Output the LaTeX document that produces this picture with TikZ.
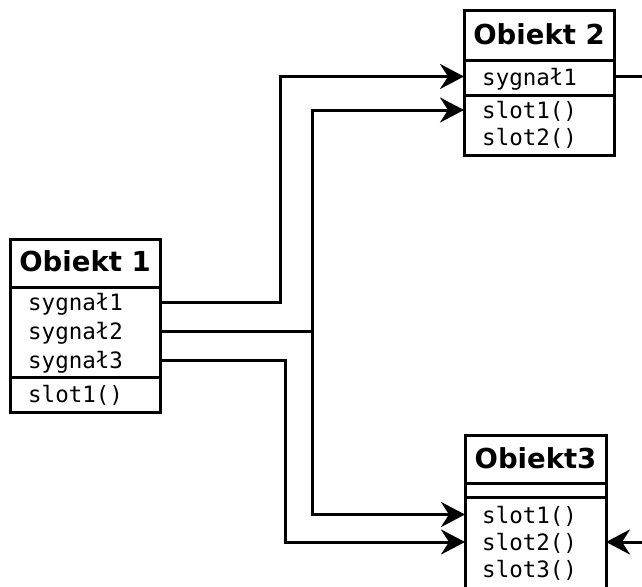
\documentclass[tikz,border=0pt]{standalone}
\usepackage{fontspec}
\setmainfont{DejaVu Sans}
\newfontfamily\monof{DejaVu Sans Mono}
\usetikzlibrary{arrows.meta}
\begin{document}
\begin{tikzpicture}[x=1pt,y=-1pt,
  box/.style={draw,line width=3pt,rectangle,inner sep=0,outer sep=0,anchor=north west},
  divider/.style={line width=3pt},
  ttl/.style={font=\bfseries\fontsize{27.5}{33}\selectfont,anchor=base,inner sep=0},
  item/.style={font=\monof\fontsize{22.5}{27}\selectfont,anchor=west,inner sep=0,text height=20pt,text depth=3pt},
  conn/.style={line width=3pt},
  arr/.style={conn,-{Stealth[length=24pt,width=25pt,inset=8pt]}}]
\useasboundingbox (0,0) rectangle (642,586);
\clip (0,0) rectangle (642,586);
% Obiekt 1
\node[box,minimum width=150pt,minimum height=173pt] (o1) at (10,239) {};
\coordinate (d1a) at (0,287);
\coordinate (d1b) at (0,377);
\draw[divider] (o1.west |- d1a) -- (o1.east |- d1a);
\draw[divider] (o1.west |- d1b) -- (o1.east |- d1b);
\node[ttl] (t1) at (85,271.5) {Obiekt 1};
\node[item] (o1s1) at (28,302) {sygnał1};
\node[item] (o1s2) at (28,331) {sygnał2};
\node[item] (o1s3) at (28,360) {sygnał3};
\node[item] (o1l1) at (28,394) {slot1()};
% Obiekt 2
\node[box,minimum width=150pt,minimum height=144pt] (o2) at (464,11) {};
\coordinate (d2a) at (0,60.5);
\coordinate (d2b) at (0,95);
\draw[divider] (o2.west |- d2a) -- (o2.east |- d2a);
\draw[divider] (o2.west |- d2b) -- (o2.east |- d2b);
\node[ttl] (t2) at (539,45) {Obiekt 2};
\node[item] (o2s1) at (482,76.5) {sygnał1};
\node[item] (o2l1) at (482,110) {slot1()};
\node[item] (o2l2) at (482,137) {slot2()};
% Obiekt3
\node[box,minimum width=141pt,minimum height=200pt] (o3) at (465,435) {};
\coordinate (d3a) at (0,483);
\coordinate (d3b) at (0,497);
\draw[divider] (o3.west |- d3a) -- (o3.east |- d3a);
\draw[divider] (o3.west |- d3b) -- (o3.east |- d3b);
\node[ttl] (t3) at (535.5,468) {Obiekt3};
\node[item] (o3l1) at (482,514.5) {slot1()};
\node[item] (o3l2) at (482,542) {slot2()};
\node[item] (o3l3) at (482,569) {slot3()};
% routing coordinates
\coordinate (v1) at (280,0);
\coordinate (v2) at (312,0);
\coordinate (v3) at (285,0);
\coordinate (out2) at (660,76.5);
\coordinate (in3) at (660,542);
% connectors
\draw[arr] (o1.east |- o1s1) -- (v1 |- o1s1) -- (v1 |- o2s1) -- (o2.west |- o2s1);
\draw[arr] (o1.east |- o1s2) -- (v2 |- o1s2) -- (v2 |- o2l1) -- (o2.west |- o2l1);
\draw[arr] (o1.east |- o1s2) -- (v2 |- o1s2) -- (v2 |- o3l1) -- (o3.west |- o3l1);
\draw[arr] (o1.east |- o1s3) -- (v3 |- o1s3) -- (v3 |- o3l2) -- (o3.west |- o3l2);
\draw[conn] (o2.east |- o2s1) -- (out2);
\draw[arr] (in3) -- (o3.east |- o3l2);
\end{tikzpicture}
\end{document}
